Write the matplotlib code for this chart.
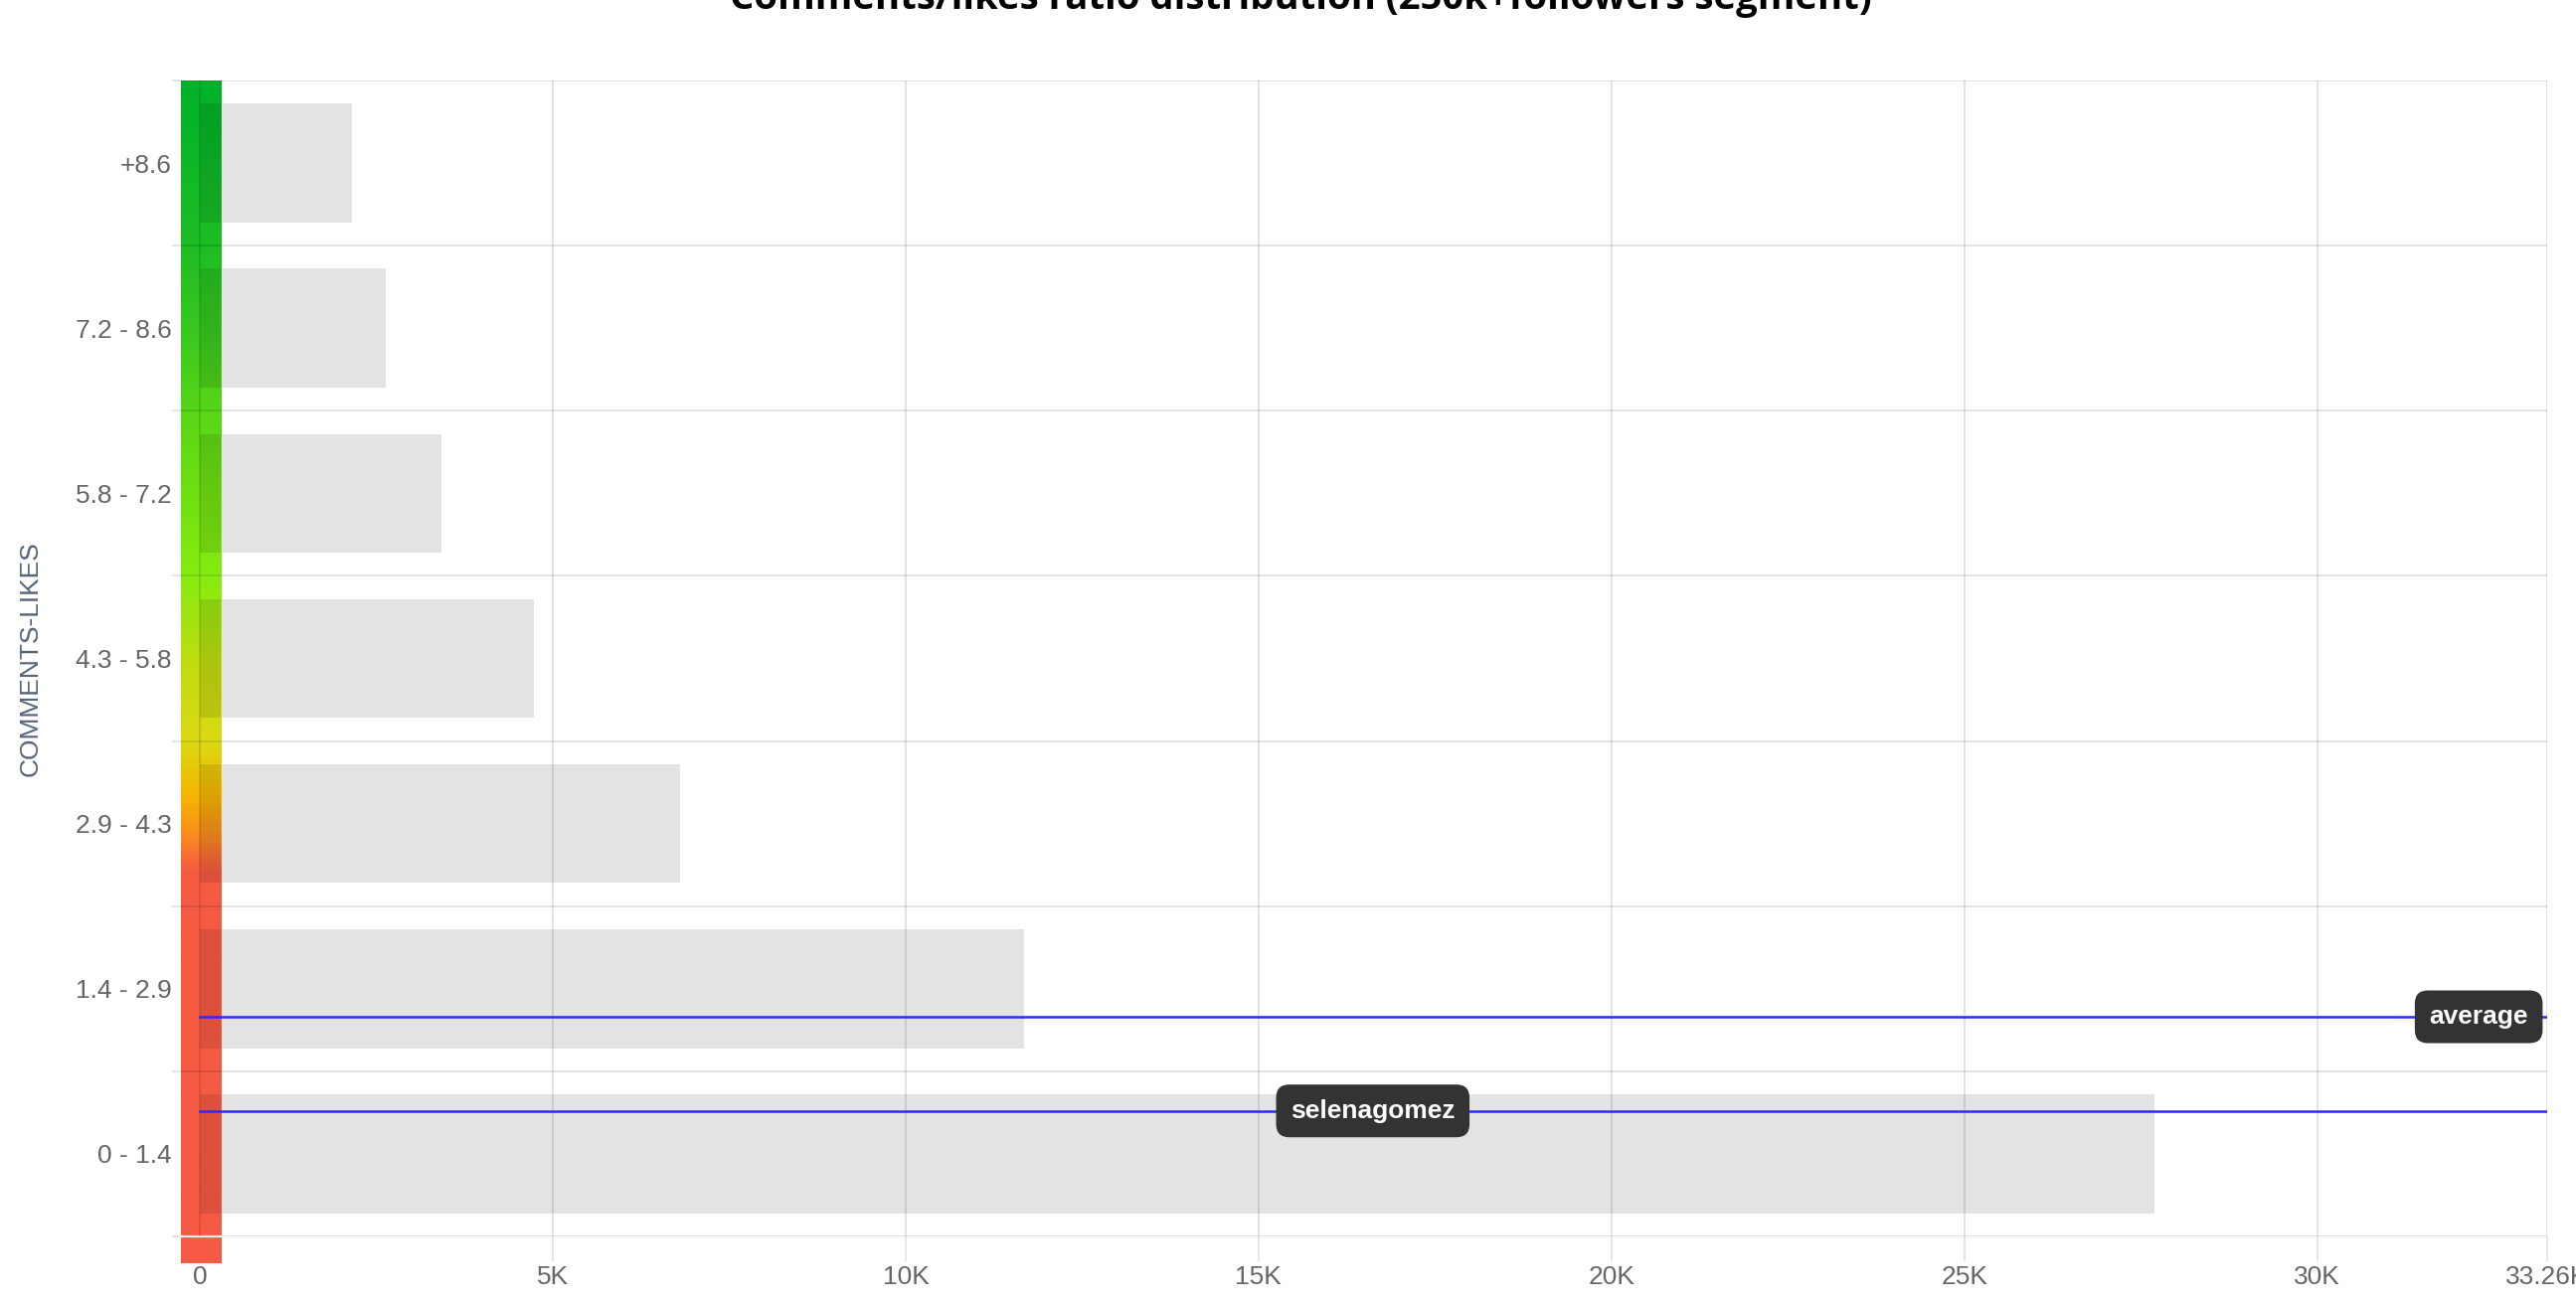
import numpy as np
import matplotlib
matplotlib.use("Agg")
import matplotlib.pyplot as plt
from matplotlib.colors import LinearSegmentedColormap

plt.rcParams["font.family"] = ["Liberation Sans", "DejaVu Sans"]

# data
categories = ["0 - 1.4", "1.4 - 2.9", "2.9 - 4.3", "4.3 - 5.8", "5.8 - 7.2", "7.2 - 8.6", "+8.6"]
counts = [27700, 11680, 6800, 4730, 3420, 2640, 2160]
xticks = [0, 5000, 10000, 15000, 20000, 25000, 30000, 33260]
xticklabels = ["0", "5K", "10K", "15K", "20K", "25K", "30K", "33.26K"]
average_pos = 1.33
selena_pos = 0.76
title = "Comments/likes ratio distribution (250k+followers segment)"

xmax = 33260
cbar_left, cbar_right = -268, 296

fig = plt.figure(figsize=(25.91, 13.12), dpi=100)
ax = fig.add_axes([182 / 2591, 1 - 1244 / 1312, (2562 - 182) / 2591, (1244 - 81) / 1312])

ypos = np.arange(len(categories)) + 0.5
ax.barh(ypos, counts, height=0.72, color="#e3e3e3", zorder=1)

# ratio colour scale on the left
nodes = [(-0.16, "#f55a44"), (2.2, "#f55a42"), (2.27, "#f7673a"), (2.42, "#fa8a20"),
         (2.68, "#f5b800"), (2.98, "#dcd814"), (3.48, "#c0dc10"), (4.0, "#86ec10"),
         (4.5, "#70e012"), (5.0, "#58d618"), (5.5, "#38c81e"), (6.0, "#1fbd24"),
         (7.0, "#00b22a")]
lo, hi = nodes[0][0], nodes[-1][0]
cmap = LinearSegmentedColormap.from_list("ratio", [((b - lo) / (hi - lo), c) for b, c in nodes])
grad = np.linspace(0, 1, 600).reshape(-1, 1)
ax.imshow(grad, cmap=cmap, aspect="auto", origin="lower",
          extent=[cbar_left, cbar_right, lo, hi], zorder=1.5, clip_on=False)
# bars behind the scale darken it a little
ax.barh(ypos, [min(c, cbar_right) for c in counts], height=0.72, color="black",
        alpha=0.1, zorder=1.6)
ax.plot([cbar_left, cbar_right], [0, 0], color="white", lw=1.6, zorder=1.7, clip_on=False)

# reference lines
ax.plot([0, xmax], [average_pos, average_pos], color="#2a2aff", lw=1.8, zorder=3)
ax.plot([0, xmax], [selena_pos, selena_pos], color="#2a2aff", lw=1.8, zorder=3)
box = dict(boxstyle="round,pad=0.55,rounding_size=0.5", fc="#333333", ec="none")
ax.text(32290, average_pos, "average", color="white", fontsize=19, fontweight="bold",
        ha="center", va="center", bbox=box, zorder=4)
ax.text(16620, selena_pos, "selenagomez", color="white", fontsize=19, fontweight="bold",
        ha="center", va="center", bbox=box, zorder=4)

ax.set_xlim(cbar_left, xmax)
ax.set_ylim(0, len(categories))
ax.set_xticks(xticks)
ax.set_xticklabels(xticklabels)
ax.set_yticks(np.arange(len(categories) + 1))
ax.set_yticklabels([])
ax.set_yticks(ypos, minor=True)
ax.set_yticklabels(categories, minor=True)
ax.tick_params(axis="x", length=18, width=1.1, color="#dedede", labelsize=19,
               labelcolor="#666666", pad=3)
ax.xaxis.get_major_ticks()[0].tick1line.set_visible(False)
ax.tick_params(axis="y", which="major", length=6.5, width=1.1, color="#dedede")
ax.tick_params(axis="y", which="minor", length=0, labelsize=19, labelcolor="#666666", pad=6.5)
ax.set_axisbelow(False)
ax.grid(True, color="black", alpha=0.13, lw=1.2)
for s in ax.spines.values():
    s.set_visible(False)

ax.set_ylabel("COMMENTS-LIKES", fontsize=19, color="#556477")
ax.yaxis.set_label_coords(-0.0584, 0.5)

fig.text(1308 / 2591, 1 - 9 / 1312, title, ha="center", va="baseline", fontsize=27.5,
         fontweight="bold", family=["Liberation Sans Narrow", "Open Sans", "DejaVu Sans"])

fig.savefig("out.png", dpi=100)
